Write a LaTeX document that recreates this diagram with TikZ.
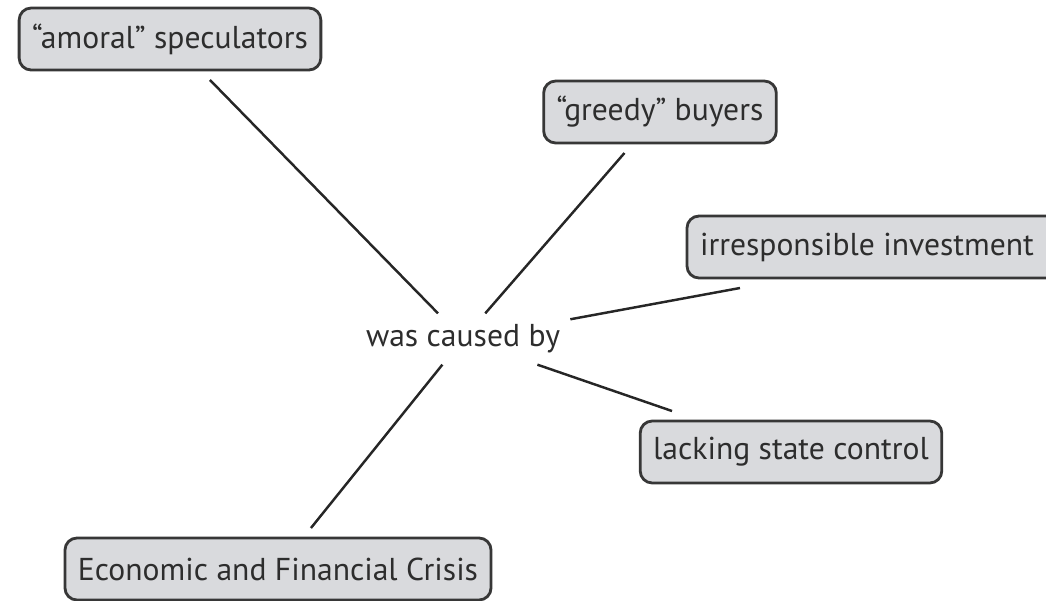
\documentclass[tikz,border=0pt]{standalone}
\usepackage{fontspec}
\setmainfont{PT Sans}
\definecolor{boxfill}{RGB}{217,218,221}
\definecolor{boxline}{RGB}{55,55,55}
\definecolor{inktext}{RGB}{45,45,45}
\begin{document}
\begin{tikzpicture}[x=0.02cm,y=-0.02cm,
    concept/.style={draw=boxline, line width=1.6pt, fill=boxfill, rounded corners=0.24cm,
      minimum height=1.24cm, inner xsep=0.26cm, outer sep=0.2cm, text=inktext, font=\fontsize{18}{21}\selectfont},
    link/.style={line width=1.4pt, draw=black!85}]
      \useasboundingbox (0,0) rectangle (1046,600);
      \node[concept] (amoral) at (170,39) {“amoral” speculators};
      \node[concept] (greedy) at (660,112) {“greedy” buyers};
      \node[concept, anchor=west, minimum width=7.5cm, align=left] (invest) at (687-10,247) {irresponsible investment\hspace*{0.3cm}};
      \node[concept] (state) at (791,452) {lacking state control};
      \node[concept] (crisis) at (278,569) {Economic and Financial Crisis};
      \node[text=inktext, font=\fontsize{18}{21}\selectfont, inner xsep=0.2cm, inner ysep=0.22cm] (caused) at (463,339) {was caused by};
      \coordinate (investfoot) at ([xshift=1.26cm]invest.south west);
      \draw[link] (amoral) -- (caused);
      \draw[link] (greedy) -- (caused);
      \draw[link] (investfoot) -- (caused);
      \draw[link] (state) -- (caused);
      \draw[link] (crisis) -- (caused);
\end{tikzpicture}
\end{document}
